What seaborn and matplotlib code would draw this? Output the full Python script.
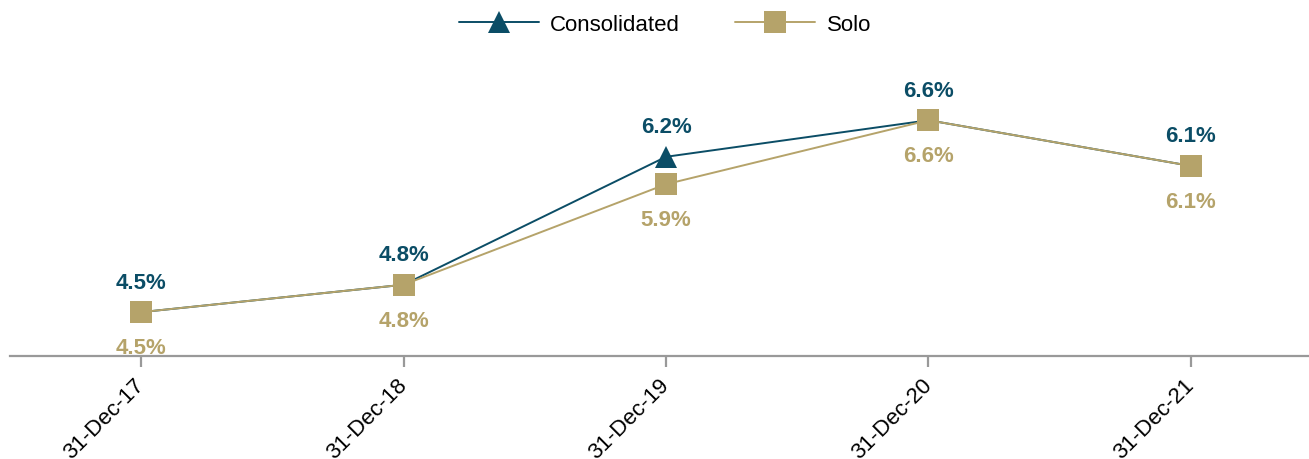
import matplotlib
matplotlib.use("Agg")
import matplotlib.pyplot as plt
import seaborn as sns
import pandas as pd

# chart data
dates = ["31-Dec-17", "31-Dec-18", "31-Dec-19", "31-Dec-20", "31-Dec-21"]
consolidated = [4.5, 4.8, 6.2, 6.6, 6.1]
solo = [4.5, 4.8, 5.9, 6.6, 6.1]

teal = "#0B4D66"
gold = "#B5A36A"

sns.set_theme(style="white")
plt.rcParams["font.family"] = ["Liberation Sans", "DejaVu Sans"]

fig = plt.figure(figsize=(13.09, 4.6), dpi=100)
ax = fig.add_axes([10 / 1309, 1 - 357 / 460, 1 - 10 / 1309, (357 - 39) / 460])

pos = list(range(len(dates)))
sns.lineplot(x=pos, y=consolidated, ax=ax, color=teal, marker="^", markersize=16,
             markeredgewidth=0, linewidth=1.4, label="Consolidated")
sns.lineplot(x=pos, y=solo, ax=ax, color=gold, marker="s", markersize=15.5,
             markeredgewidth=0, linewidth=1.4, label="Solo")

# data labels
for i in pos:
    ax.annotate(f"{consolidated[i]:.1f}%", (i, consolidated[i]), xytext=(0, 14),
                textcoords="offset points", ha="center", va="bottom",
                color=teal, fontsize=16, fontweight="bold")
    ax.annotate(f"{solo[i]:.1f}%", (i, solo[i]), xytext=(0, -18),
                textcoords="offset points", ha="center", va="top",
                color=gold, fontsize=16, fontweight="bold")

ax.set_xlim(-0.5, 4.45)
ax.set_ylim(4.02, 7.5)
ax.set_xticks(pos)
ax.set_xticklabels(dates, rotation=45, ha="right", va="center",
                   rotation_mode="anchor", fontsize=16, color="black")
ax.set_yticks([])
ax.set_xlabel("")
ax.set_ylabel("")

for s in ["top", "right", "left"]:
    ax.spines[s].set_visible(False)
ax.spines["bottom"].set_color("#999999")
ax.spines["bottom"].set_linewidth(1.6)
ax.tick_params(axis="x", direction="out", length=8, width=1.6, color="#999999",
               bottom=True, pad=10)

handles, labels = ax.get_legend_handles_labels()
ax.get_legend().remove()
fig.legend(handles, labels, loc="center", bbox_to_anchor=(0.508, 0.945), ncol=2,
           frameon=False, fontsize=16, handlelength=3.6, handletextpad=0.5,
           columnspacing=2.5, labelcolor="black")

fig.savefig("out.png", dpi=100)
